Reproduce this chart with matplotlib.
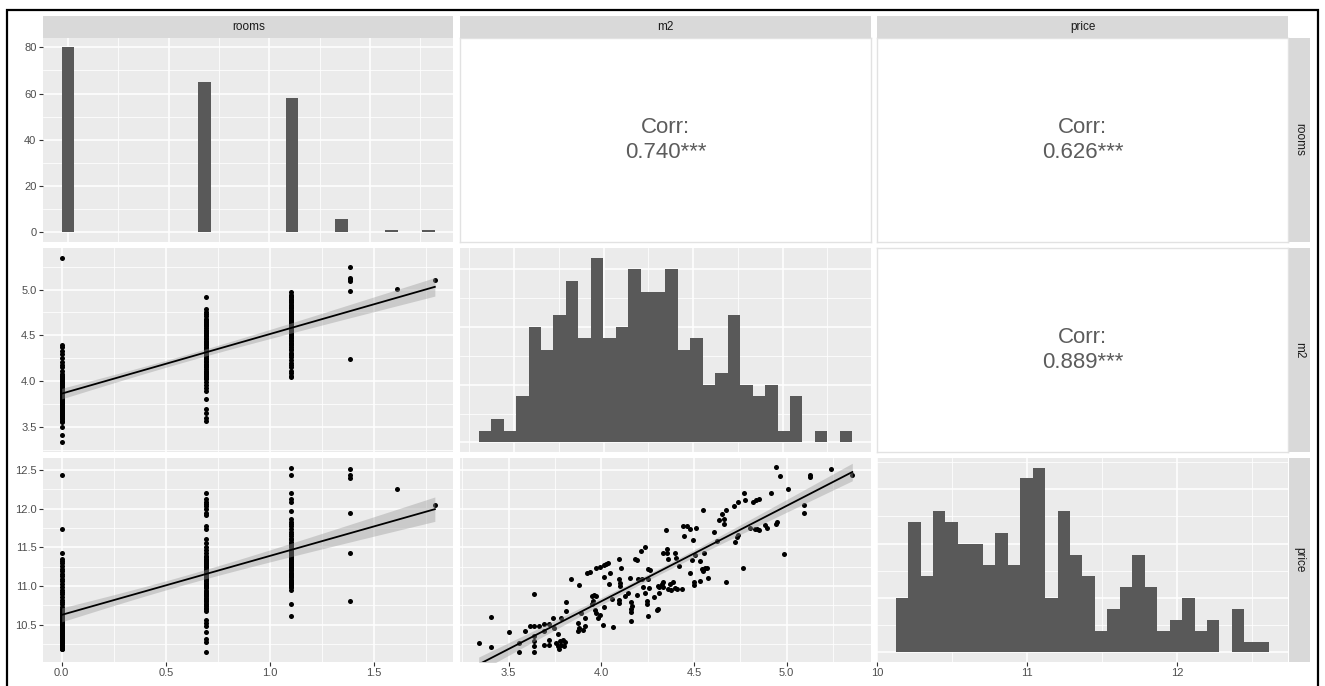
import numpy as np
import matplotlib
matplotlib.use("Agg")
import matplotlib.pyplot as plt
from matplotlib.ticker import MultipleLocator, FormatStrFormatter
from matplotlib.lines import Line2D

plt.rcParams['font.family'] = ['Liberation Sans', 'DejaVu Sans']

# ---------------- data ----------------
variables = ["rooms", "m2", "price"]

rooms_levels = [0.0, 0.693, 1.099, 1.386, 1.609, 1.792]
rooms_counts = [80, 65, 58, 6, 1, 1]

m2_min, m2_max = 3.338, 5.354
m2_hist_counts = [1, 2, 1, 4, 10, 8, 11, 14, 9, 16, 9, 10, 15, 13, 13,
                  15, 8, 9, 5, 6, 11, 5, 4, 5, 1, 4, 0, 1, 0, 1]

price_min, price_max = 10.164, 12.574
price_hist_counts = [5, 12, 7, 13, 12, 10, 10, 8, 11, 8, 16, 17, 5, 13, 9,
                     7, 2, 4, 6, 9, 6, 2, 3, 5, 2, 3, 0, 4, 1, 1]

corr_rooms_m2 = "0.740***"
corr_rooms_price = "0.626***"
corr_m2_price = "0.889***"

# rooms vs m2 : m2 values at each rooms level (visible points + estimated overlapping ones)
rm_m2_groups = [
    [5.35, 4.394, 4.368, 4.332, 4.295, 4.248, 4.204, 4.175, 4.149, 4.113, 4.076,
     4.051, 4.022, 3.992, 3.967, 3.941, 3.912, 3.883, 3.857, 3.832, 3.802, 3.773,
     3.748, 3.722, 3.693, 3.664, 3.638, 3.602, 3.565, 3.547, 3.492, 3.408, 3.328,
     3.58, 3.60, 3.62, 3.63, 3.65, 3.66, 3.67, 3.68, 3.70, 3.71, 3.72, 3.73, 3.74,
     3.75, 3.76, 3.77, 3.78, 3.79, 3.80, 3.81, 3.82, 3.82, 3.83, 3.84, 3.85, 3.86,
     3.86, 3.87, 3.88, 3.89, 3.90, 3.91, 3.92, 3.93, 3.94, 3.95, 3.96, 3.97, 3.98,
     3.99, 4.00, 4.02, 4.04, 4.06, 3.70, 3.75, 3.80],
    [4.92, 4.79, 4.76, 4.73, 4.71, 4.68, 4.65, 4.62, 4.60, 4.56, 4.53, 4.50, 4.47,
     4.44, 4.42, 4.39, 4.36, 4.33, 4.30, 4.27, 4.24, 4.21, 4.18, 4.15, 4.11, 4.09,
     4.06, 4.02, 3.99, 3.96, 3.92, 3.89, 3.80, 3.69, 3.65, 3.60, 3.56,
     4.03, 4.05, 4.08, 4.10, 4.13, 4.16, 4.19, 4.22, 4.25, 4.28, 4.31, 4.33, 4.35,
     4.37, 4.40, 4.43, 4.46, 4.49, 4.52, 4.55, 4.58, 4.61, 4.64, 4.67, 4.30, 4.32,
     4.34, 4.36],
    [4.97, 4.94, 4.92, 4.89, 4.86, 4.83, 4.81, 4.78, 4.75, 4.72, 4.70, 4.67, 4.64,
     4.61, 4.59, 4.56, 4.53, 4.50, 4.48, 4.45, 4.42, 4.39, 4.37, 4.34, 4.31, 4.28,
     4.26, 4.23, 4.20, 4.17, 4.15, 4.11, 4.09, 4.06, 4.04,
     4.30, 4.35, 4.40, 4.44, 4.47, 4.50, 4.53, 4.55, 4.58, 4.60, 4.62, 4.64, 4.66,
     4.68, 4.70, 4.72, 4.74, 4.77, 4.80, 4.83, 4.86, 4.90, 4.93],
    [5.25, 5.13, 5.11, 5.09, 4.98, 4.24],
    [5.01],
    [5.10],
]

# rooms vs price : price values at each rooms level (visible points + estimated overlapping ones)
rm_price_groups = [
    [12.43, 11.73, 11.42, 11.35, 11.32, 11.29, 11.26, 11.22, 11.19, 11.16, 11.13,
     11.09, 11.06, 11.02, 10.99, 10.95, 10.92, 10.89, 10.86, 10.82, 10.79, 10.76,
     10.73, 10.69, 10.66, 10.63, 10.60, 10.56, 10.53, 10.50, 10.47, 10.44, 10.40,
     10.37, 10.34, 10.31, 10.27, 10.24, 10.21, 10.18,
     10.18, 10.20, 10.21, 10.23, 10.24, 10.26, 10.27, 10.29, 10.30, 10.32, 10.33,
     10.35, 10.36, 10.38, 10.39, 10.41, 10.42, 10.44, 10.45, 10.47, 10.48, 10.50,
     10.51, 10.53, 10.54, 10.56, 10.58, 10.60, 10.62, 10.64, 10.66, 10.68, 10.70,
     10.25, 10.30, 10.35, 10.40, 10.45, 10.50, 10.55],
    [12.20, 12.12, 12.09, 12.06, 12.03, 11.99, 11.94, 11.92, 11.78, 11.74, 11.60,
     11.55, 11.50, 11.47, 11.43, 11.39, 11.35, 11.32, 11.30, 11.27, 11.24, 11.21,
     11.17, 11.14, 11.11, 11.08, 11.04, 11.01, 10.98, 10.93, 10.90, 10.87, 10.83,
     10.80, 10.77, 10.74, 10.70, 10.67, 10.56, 10.52, 10.48, 10.41, 10.31, 10.28,
     10.14,
     10.72, 10.76, 10.80, 10.84, 10.88, 10.91, 10.94, 10.97, 11.00, 11.03, 11.06,
     11.09, 11.12, 11.15, 11.18, 11.22, 11.26, 11.30, 11.34, 11.38],
    [12.53, 12.43, 12.20, 12.12, 12.09, 11.97, 11.86, 11.83, 11.80, 11.77, 11.73,
     11.70, 11.67, 11.64, 11.60, 11.57, 11.54, 11.51, 11.47, 11.43, 11.40, 11.37,
     11.34, 11.30, 11.27, 11.24, 11.21, 11.17, 11.14, 11.11, 11.08, 11.04, 11.01,
     10.98, 10.95, 10.76, 10.61,
     10.98, 11.02, 11.05, 11.08, 11.11, 11.14, 11.17, 11.20, 11.23, 11.26, 11.29,
     11.32, 11.35, 11.38, 11.41, 11.44, 11.47, 11.50, 11.53, 11.56, 11.60],
    [12.51, 12.43, 12.40, 11.94, 11.42, 10.80],
    [12.25],
    [12.04],
]

# m2 vs price scatter
sc_m2 = [3.338, 3.405, 3.405, 3.500, 3.558, 3.558, 3.589, 3.617, 3.639, 3.639,
         3.639, 3.639, 3.639, 3.639, 3.666, 3.690, 3.693, 3.693, 3.717, 3.720,
         3.720, 3.738, 3.744, 3.756, 3.765, 3.765, 3.769, 3.775, 3.784, 3.793,
         3.798, 3.802, 3.784, 3.811, 3.811, 3.834, 3.877, 3.892, 3.874, 3.874,
         3.877, 3.901, 3.910, 3.913, 3.922, 3.937, 3.950, 3.960, 3.973, 3.955,
         3.951, 3.964, 3.973, 3.991, 3.982, 4.009, 4.013, 3.973, 3.993, 4.013,
         4.027, 4.036, 4.015, 4.042, 4.045, 4.058, 4.063, 4.094, 4.108, 4.096,
         4.099, 4.099, 4.096, 4.096, 4.130, 4.144, 4.157, 4.159, 4.159, 4.162,
         4.166, 4.162, 4.181, 4.190, 4.190, 4.199, 4.213, 4.217, 4.226, 4.238,
         4.235, 4.244, 4.244, 4.253, 4.256, 4.253, 4.253, 4.265, 4.285, 4.298,
         4.303, 4.303, 4.311, 4.311, 4.325, 4.334, 4.330, 4.334, 4.352, 4.357,
         4.356, 4.361, 4.370, 4.375, 4.388, 4.397, 4.397, 4.404, 4.406, 4.419,
         4.437, 4.348, 4.439, 4.447, 4.460, 4.478, 4.493, 4.513, 4.477, 4.491,
         4.502, 4.502, 4.505, 4.533, 4.534, 4.541, 4.550, 4.556, 4.559, 4.568,
         4.574, 4.550, 4.605, 4.623, 4.637, 4.650, 4.664, 4.659, 4.673, 4.673,
         4.718, 4.736, 4.722, 4.731, 4.736, 4.762, 4.767, 4.773, 4.803, 4.827,
         4.839, 4.848, 4.818, 4.836, 4.848, 4.881, 4.894, 4.917, 4.942, 4.966,
         4.942, 4.947, 4.983, 5.005, 5.092, 5.092, 5.124, 5.124, 5.240, 5.354]
sc_price = [10.258, 10.604, 10.214, 10.405, 10.262, 10.145, 10.413, 10.478, 10.890, 10.478,
            10.348, 10.284, 10.219, 10.145, 10.478, 10.513, 10.413, 10.240, 10.513, 10.305,
            10.240, 10.587, 10.457, 10.262, 10.383, 10.219, 10.184, 10.284, 10.240, 10.305,
            10.219, 10.271, 10.587, 10.673, 10.790, 11.084, 11.015, 10.652, 10.522, 10.413,
            10.457, 10.435, 10.478, 10.587, 11.162, 11.180, 10.868, 10.881, 10.868, 10.803,
            10.760, 10.695, 10.652, 10.630, 10.587, 10.500, 10.729, 11.236, 11.249, 11.266,
            11.279, 11.292, 11.119, 11.019, 11.162, 10.825, 10.470, 11.353, 11.236, 11.093,
            11.032, 10.998, 10.816, 10.781, 10.868, 10.911, 11.106, 10.703, 10.669, 10.790,
            10.738, 10.543, 11.353, 11.335, 10.877, 11.084, 11.452, 11.084, 10.989, 11.500,
            10.911, 10.803, 10.760, 10.608, 10.976, 11.084, 11.223, 11.206, 10.859, 10.695,
            10.703, 10.998, 10.911, 10.985, 11.019, 10.989, 11.050, 11.422, 11.483, 11.344,
            11.422, 10.955, 11.019, 10.946, 11.050, 11.422, 10.976, 11.366, 10.955, 11.258,
            10.963, 11.725, 11.777, 11.647, 11.768, 11.742, 11.595, 11.751, 11.162, 11.331,
            11.050, 11.006, 11.396, 11.322, 11.063, 11.214, 11.193, 11.431, 11.236, 11.236,
            11.106, 11.981, 11.703, 11.578, 11.851, 11.929, 11.864, 11.799, 11.985, 11.054,
            12.028, 12.080, 11.569, 11.626, 11.656, 11.227, 12.201, 12.115, 11.755, 11.734,
            11.734, 11.725, 12.089, 12.115, 12.123, 11.786, 11.755, 12.201, 12.535, 12.426,
            11.799, 11.820, 11.418, 12.249, 12.045, 11.942, 12.435, 12.405, 12.513, 12.435]

# ---------------- layout / style ----------------
W, H = 1325, 686
fig = plt.figure(figsize=(W / 100, H / 100), dpi=100)
fig.patch.set_facecolor('white')

cols = [(43, 453.5), (460, 871), (877, 1288)]
rows = [(38, 241.7), (248.3, 451.7), (458.3, 661.7)]


def rect(x0, x1, y0, y1):
    return [x0 / W, 1 - y1 / H, (x1 - x0) / W, (y1 - y0) / H]


PANEL_BG = '#EBEBEB'
BAR = '#595959'
TICK_TXT = '#4D4D4D'
PT_SIZE = 13


def data_panel(ax, xmaj, xmin, ymaj, ymin, xfmt, yfmt, left, bottom):
    ax.set_facecolor(PANEL_BG)
    for s in ax.spines.values():
        s.set_visible(False)
    ax.xaxis.set_major_locator(MultipleLocator(xmaj))
    ax.xaxis.set_minor_locator(MultipleLocator(xmin))
    ax.yaxis.set_major_locator(MultipleLocator(ymaj))
    ax.yaxis.set_minor_locator(MultipleLocator(ymin))
    ax.xaxis.set_major_formatter(FormatStrFormatter(xfmt))
    ax.yaxis.set_major_formatter(FormatStrFormatter(yfmt))
    ax.grid(which='major', color='white', lw=1.1)
    ax.grid(which='minor', color='white', lw=0.55)
    ax.set_axisbelow(True)
    ax.tick_params(which='both', length=0, labelbottom=False, labelleft=False)
    if left:
        ax.tick_params(axis='y', which='major', length=2.7, width=0.8, color='#333333',
                       labelleft=True, labelsize=8, labelcolor=TICK_TXT, pad=2)
    if bottom:
        ax.tick_params(axis='x', which='major', length=2.7, width=0.8, color='#333333',
                       labelbottom=True, labelsize=8, labelcolor=TICK_TXT, pad=2)


def expand(lo, hi, f=0.05):
    r = hi - lo
    return lo - f * r, hi + f * r


def smooth(ax, x, y):
    x = np.asarray(x, float)
    y = np.asarray(y, float)
    n = len(x)
    b, a = np.polyfit(x, y, 1)
    xs = np.linspace(x.min(), x.max(), 100)
    fit = a + b * xs
    s = np.sqrt(np.sum((y - (a + b * x)) ** 2) / (n - 2))
    sxx = np.sum((x - x.mean()) ** 2)
    se = s * np.sqrt(1.0 / n + (xs - x.mean()) ** 2 / sxx)
    t = 1.97
    ax.fill_between(xs, fit - t * se, fit + t * se, color='#999999', alpha=0.4,
                    lw=0, zorder=3)
    ax.plot(xs, fit, color='black', lw=1.3, zorder=4)


def hist_panel(ax, counts, vmin, vmax):
    counts = np.asarray(counts, float)
    w = (vmax - vmin) / 29.0
    edges = vmin - w / 2 + w * np.arange(31)
    ax.stairs(counts, edges, fill=True, color=BAR, lw=0, zorder=2)
    ax.set_xlim(*expand(edges[0], edges[-1]))
    ax.set_ylim(*expand(0, counts.max()))


def corr_panel(ax, label):
    ax.set_facecolor('white')
    for s in ax.spines.values():
        s.set_color('#E2E2E2')
        s.set_linewidth(1.0)
    ax.set_xticks([])
    ax.set_yticks([])
    ax.text(0.5, 0.5, "Corr:\n" + label, ha='center', va='center', fontsize=16,
            color='#5C5C5C', linespacing=1.25, transform=ax.transAxes)


axes = [[fig.add_axes(rect(cols[c][0], cols[c][1], rows[r][0], rows[r][1]))
         for c in range(3)] for r in range(3)]

rooms_lim = expand(min(rooms_levels), max(rooms_levels))
all_price = [p for g in rm_price_groups for p in g]
price_lim = expand(min(all_price), max(all_price))
all_m2 = [m for g in rm_m2_groups for m in g]
m2_row_lim = expand(min(all_m2), max(all_m2))

# --- (0,0) rooms histogram
ax = axes[0][0]
rooms_w = (max(rooms_levels) - min(rooms_levels)) / 29.0
rooms_edges = min(rooms_levels) - rooms_w / 2 + rooms_w * np.arange(31)
rooms_hist, _ = np.histogram(np.repeat(rooms_levels, rooms_counts), bins=rooms_edges)
data_panel(ax, 0.5, 0.25, 20, 10, '%.1f', '%d', left=True, bottom=False)
hist_panel(ax, rooms_hist, min(rooms_levels), max(rooms_levels))

# --- correlations
corr_panel(axes[0][1], corr_rooms_m2)
corr_panel(axes[0][2], corr_rooms_price)
corr_panel(axes[1][2], corr_m2_price)

# --- (1,0) rooms vs m2
ax = axes[1][0]
data_panel(ax, 0.5, 0.25, 0.5, 0.25, '%.1f', '%.1f', left=True, bottom=False)
rx = np.concatenate([[lv] * len(g) for lv, g in zip(rooms_levels, rm_m2_groups)])
ry = np.array(all_m2)
ax.scatter(rx, ry, s=PT_SIZE, color='black', lw=0, zorder=2)
smooth(ax, rx, ry)
ax.set_xlim(*rooms_lim)
ax.set_ylim(*m2_row_lim)

# --- (1,1) m2 histogram
ax = axes[1][1]
data_panel(ax, 0.5, 0.25, 5, 2.5, '%.1f', '%d', left=False, bottom=False)
hist_panel(ax, m2_hist_counts, m2_min, m2_max)

# --- (2,0) rooms vs price
ax = axes[2][0]
data_panel(ax, 0.5, 0.25, 0.5, 0.25, '%.1f', '%.1f', left=True, bottom=True)
px = np.concatenate([[lv] * len(g) for lv, g in zip(rooms_levels, rm_price_groups)])
py = np.array(all_price)
ax.scatter(px, py, s=PT_SIZE, color='black', lw=0, zorder=2)
smooth(ax, px, py)
ax.set_xlim(*rooms_lim)
ax.set_ylim(*price_lim)

# --- (2,1) m2 vs price
ax = axes[2][1]
data_panel(ax, 0.5, 0.25, 0.5, 0.25, '%.1f', '%.1f', left=False, bottom=True)
ax.scatter(sc_m2, sc_price, s=PT_SIZE, color='black', lw=0, zorder=2)
smooth(ax, sc_m2, sc_price)
ax.set_xlim(*expand(min(sc_m2), max(sc_m2)))
ax.set_ylim(*price_lim)

# --- (2,2) price histogram
ax = axes[2][2]
data_panel(ax, 1, 0.5, 5, 2.5, '%d', '%d', left=False, bottom=True)
hist_panel(ax, price_hist_counts, price_min, price_max)

# --- strips
for c, name in enumerate(variables):
    sax = fig.add_axes(rect(cols[c][0], cols[c][1], 15.7, 37.7))
    sax.set_facecolor('#D9D9D9')
    sax.set_xticks([]); sax.set_yticks([])
    for s in sax.spines.values():
        s.set_visible(False)
    sax.text(0.5, 0.5, name, ha='center', va='center', fontsize=8.5,
             color='#1A1A1A', transform=sax.transAxes)
for r, name in enumerate(variables):
    sax = fig.add_axes(rect(1288.5, 1310, rows[r][0], rows[r][1]))
    sax.set_facecolor('#D9D9D9')
    sax.set_xticks([]); sax.set_yticks([])
    for s in sax.spines.values():
        s.set_visible(False)
    sax.text(0.5, 0.5, name, ha='center', va='center', fontsize=8.5, rotation=-90,
             color='#1A1A1A', transform=sax.transAxes)

# --- outer frame (open at the bottom)
fx = lambda x: x / W
fy = lambda y: 1 - y / H
fig.add_artist(Line2D([fx(6.5), fx(6.5), fx(1317.5), fx(1317.5)],
                      [fy(690), fy(9.5), fy(9.5), fy(690)],
                      color='black', lw=1.6, solid_joinstyle='miter'))

fig.savefig('out.png', dpi=100, facecolor='white')
